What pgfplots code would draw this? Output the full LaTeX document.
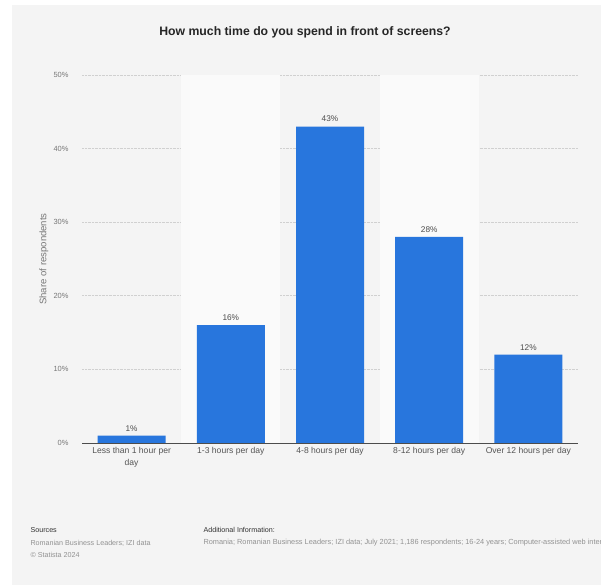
\documentclass[border=0pt]{standalone}
\usepackage{pgfplots}
\pgfplotsset{compat=1.18}
\usepackage{fontspec}
\setmainfont{Liberation Sans}
\definecolor{bg}{HTML}{F4F4F4}
\definecolor{band}{HTML}{FAFAFA}
\definecolor{barblue}{HTML}{2876DD}
\definecolor{gridc}{HTML}{D0D0D0}
\definecolor{tickc}{HTML}{777777}
\definecolor{labc}{HTML}{555555}
\begin{document}
\begin{tikzpicture}[x=1bp,y=1bp]
\useasboundingbox (0,0) rectangle (601,586);
\fill[white] (0,0) rectangle (601,586);
\fill[bg] (12,1) rectangle (601,581);
\node[font=\bfseries\fontsize{12.3}{14}\selectfont, color=black!85] at (305,554) {How much time do you spend in front of screens?};
\begin{axis}[
  at={(82bp,143bp)}, anchor=south west,
  scale only axis, width=496bp, height=368bp,
  xmin=-0.5, xmax=4.5, ymin=0, ymax=50,
  axis line style={draw=none},
  major tick length=0pt,
  ytick={0,10,20,30,40,50},
  yticklabel={\pgfmathprintnumber{\tick}\%},
  yticklabel style={font=\fontsize{7.5}{8}\selectfont, color=tickc, xshift=-10bp},
  /pgf/number format/assume math mode=true,
  ymajorgrids, grid style={densely dotted, color=gridc, line width=0.6bp},
  xtick={0,1,2,3,4},
  xticklabels={{Less than 1 hour per\\day},{1-3 hours per day},{4-8 hours per day},{8-12 hours per day},{Over 12 hours per day}},
  xticklabel style={font=\fontsize{8.6}{12}\selectfont, color=labc, align=center, yshift=-1bp},
  ylabel={Share of respondents},
  ylabel style={at={(axis description cs:-0.0766,0.5)}, anchor=center, font=\fontsize{9.6}{10}\selectfont, color=tickc},
  ybar, bar width=68bp,
  nodes near coords={\pgfmathprintnumber{\pgfplotspointmeta}\%},
  nodes near coords style={font=\fontsize{8.3}{10}\selectfont, color=black!70, yshift=1bp},
  clip=false,
]
\fill[band] (axis cs:0.5,0) rectangle (axis cs:1.5,50);
\fill[band] (axis cs:2.5,0) rectangle (axis cs:3.5,50);
\addplot[fill=barblue, draw=none] coordinates {(0,1) (1,16) (2,43) (3,28) (4,12)};
\draw[color=black!70, line width=0.8bp] (axis cs:-0.5,0) -- (axis cs:4.5,0);
\end{axis}
\begin{scope}[font=\fontsize{7.2}{9}\selectfont]
\node[anchor=west, color=black!80] at (27,56) {Sources};
\node[anchor=west, color=tickc!80] at (27,43) {Romanian Business Leaders; IZI data};
\node[anchor=west, color=tickc!80] at (27,31) {\textcopyright{} Statista 2024};
\node[anchor=west, color=black!80] at (200,56) {Additional Information:};
\clip (195,30) rectangle (601,50);
\node[anchor=west, color=tickc!80, font=\fontsize{7.4}{9}\selectfont] at (200,43) {Romania; Romanian Business Leaders; IZI data; July 2021; 1,186 respondents; 16-24 years; Computer-assisted web interview};
\end{scope}
\end{tikzpicture}
\end{document}
